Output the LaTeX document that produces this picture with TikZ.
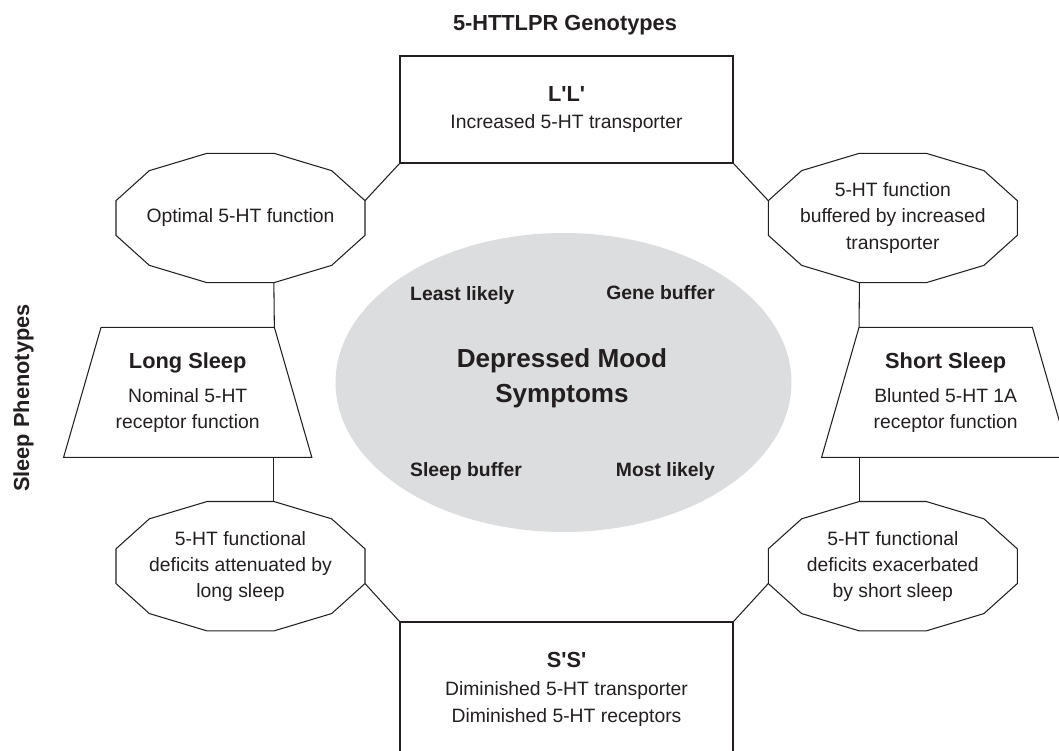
\documentclass[tikz,border=0pt]{standalone}
\usepackage{fontspec}
\setmainfont{Liberation Sans}[Ligatures=TeXOff]
\usepackage{tikz}
\usetikzlibrary{shapes.geometric}
\usetikzlibrary{calc}
\definecolor{ink}{HTML}{231F20}
\definecolor{moodgray}{HTML}{DCDDDE}
\tikzset{boxline/.style = {draw = ink, line width = 0.6pt}}
\tikzset{body/.style = {text = ink, font = \fontsize{11}{14.8}\selectfont, align = center}}
\tikzset{head/.style = {text = ink, font = \bfseries\fontsize{12.4}{14.8}\selectfont}}
\tikzset{corner/.style = {text = ink, font = \bfseries\fontsize{11}{13}\selectfont}}
\tikzset{bigtext/.style = {text = ink, font = \bfseries\fontsize{14.85}{20}\selectfont, align = center}}
\tikzset{genebox/.style = {boxline, body, rectangle, minimum width = 6.66cm, inner sep = 0}}
\newcommand{\hdr}[1]{{\bfseries\fontsize{12.4}{14.8}\selectfont #1}}
\newcommand{\dodecagon}[1]{%
  \foreach \a [count=\i] in {15,45,...,345}
    \coordinate (#1-\i) at ($(#1)+(\a:2.578 and 1.34)$);
  \draw [boxline] (#1-1) \foreach \i in {2,...,12} {-- (#1-\i)} -- cycle;
}
\newcommand{\trapbox}[1]{%
  \coordinate (#1-tl) at ($(#1)+(-1.733, 1.3)$);
  \coordinate (#1-tr) at ($(#1)+(1.733, 1.3)$);
  \coordinate (#1-br) at ($(#1)+(2.482, -1.3)$);
  \coordinate (#1-bl) at ($(#1)+(-2.482, -1.3)$);
  \draw [boxline] (#1-tl) -- (#1-tr) -- (#1-br) -- (#1-bl) -- cycle;
}

\begin{document}
\begin{tikzpicture}
  \useasboundingbox (0, 0) rectangle (21.18, 15);
  \clip (0, 0) rectangle (21.18, 15);

  \node [ellipse, fill = moodgray, inner sep = 0, minimum width = 9.12cm, minimum height = 5.98cm] (mood) at (11.27, 7.35) {};
  \node [bigtext] (symptoms) at (11.24, 7.43) {Depressed Mood\\Symptoms};
  \node [corner, anchor = base west] (least) at (8.08, 8.98) {Least likely};
  \node [corner, anchor = base east] (genebuf) at (14.42, 9.0) {Gene buffer};
  \node [corner, anchor = base west] (sleepbuf) at (8.08, 5.46) {Sleep buffer};
  \node [corner, anchor = base east] (most) at (14.42, 5.46) {Most likely};

  \node [head, anchor = base] (genotypes) at (11.30, 14.38) {5-HTTLPR Genotypes};
  \node [head, rotate = 90, anchor = base] (phenotypes) at (0.58, 7.04) {Sleep Phenotypes};

  \node [genebox, minimum height = 2.14cm] (longlong) at (11.33, 12.81) {\hdr{L'L'}\\[1pt] Increased 5-HT transporter};
  \node [genebox, minimum height = 2.7cm] (shortshort) at (11.33, 1.21) {\hdr{S'S'}\\[1pt] Diminished 5-HT transporter\\[1pt] Diminished 5-HT receptors};

  \node [body] (longsleep) at (3.754, 7.154) {\hdr{Long Sleep}\\[4.7pt] Nominal 5-HT\\ receptor function};
  \node [body] (shortsleep) at (18.914, 7.154) {\hdr{Short Sleep}\\[4.7pt] Blunted 5-HT 1A\\ receptor function};
  \trapbox{longsleep}
  \trapbox{shortsleep}

  \node [body] (optimal) at (4.81, 10.64) {Optimal 5-HT function};
  \node [body] (buffered) at (17.856, 10.64) {5-HT function\\buffered by increased\\transporter};
  \node [body] (attenuated) at (4.81, 3.676) {5-HT functional\\deficits attenuated by\\long sleep};
  \node [body] (exacerbated) at (17.856, 3.676) {5-HT functional\\deficits exacerbated\\by short sleep};
  \dodecagon{optimal}
  \dodecagon{buffered}
  \dodecagon{attenuated}
  \dodecagon{exacerbated}

  \draw [boxline] (longlong.south west) -- (optimal-1);
  \draw [boxline] (longlong.south east) -- (buffered-6);
  \draw [boxline] (optimal-10) -- (longsleep-tr);
  \draw [boxline] (buffered-9) -- (shortsleep-tl);
  \draw [boxline] (attenuated-3) -- (attenuated-3 |- longsleep-bl);
  \draw [boxline] (exacerbated-4) -- (exacerbated-4 |- shortsleep-bl);
  \draw [boxline] (attenuated-12) -- (shortshort.north west);
  \draw [boxline] (exacerbated-7) -- (shortshort.north east);
\end{tikzpicture}
\end{document}
